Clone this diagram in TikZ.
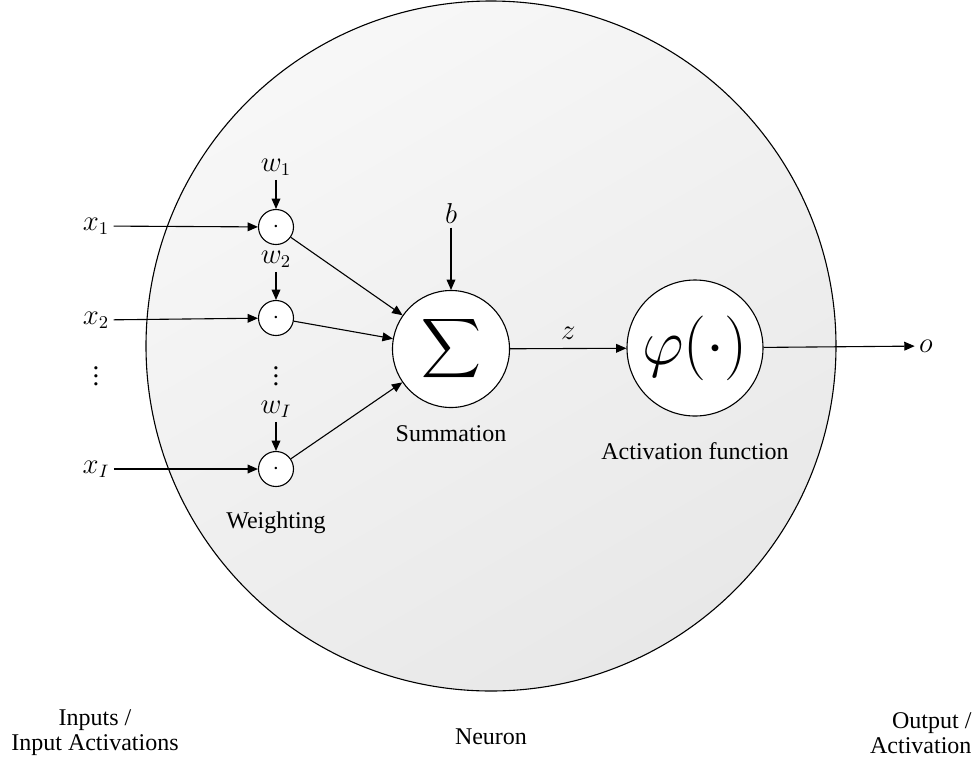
\documentclass[tikz,border=0pt]{standalone}
\usepackage{amsmath}
\usepackage{graphicx}
\usepackage{fontspec}
\setmainfont{Liberation Serif}
\usetikzlibrary{arrows.meta}
\begin{document}
\begin{tikzpicture}[x=0.5pt,y=-0.5pt,
  font=\fontsize{12}{12.5}\selectfont,
  line width=0.55pt,
  arr/.style={-{Triangle[length=5.2pt,width=4.4pt]}},
  mult/.style={circle,draw,fill=white,minimum size=17.5pt,inner sep=0pt},
  bigop/.style={circle,draw,fill=white,inner sep=0pt},
  lbl/.style={inner sep=2pt,font=\fontsize{13.5}{14}\selectfont},
  caption/.style={align=center,inner sep=0pt}]
\useasboundingbox (0,0) rectangle (976,767);
% neuron body
\node[circle,draw,minimum size=345pt,inner sep=0pt,
      top color=black!3,bottom color=black!9,shading angle=30] (neuron) at (491,346) {};
% inputs
\node[lbl] (x1) at (96,226) {$x_1$};
\node[lbl] (x2) at (96,320) {$x_2$};
\node[lbl] (xd) at (96,370) {$\vdots$};
\node[lbl] (xI) at (96,469) {$x_I$};
% multiplication nodes
\node[mult] (m1) at (276,227) {$\cdot$};
\node[mult] (m2) at (276,318) {$\cdot$};
\node[lbl] (md) at (276,370) {$\vdots$};
\node[mult] (mI) at (276,469) {$\cdot$};
% weights
\node[lbl] (w1) at (276,167) {$w_1$};
\node[lbl] (w2) at (276,259) {$w_2$};
\node[lbl] (wI) at (276,409) {$w_I$};
% summation
\node[bigop,minimum size=58.5pt] (sum) at (451,349) {\fontsize{20.74}{24}\selectfont$\displaystyle\sum$};
\node[lbl] (b) at (451,213) {$b$};
% activation
\node[bigop,minimum size=68pt] (act) at (695,348) {\scalebox{1.3}{\fontsize{24.88}{28}\selectfont$\varphi(\cdot)$}};
\node[lbl] (o) at (926,346) {$o$};
% labels
\node[caption] (weighting) at (276,523) {Weighting};
\node[caption] (summation) at (451,434) {Summation};
\node[caption] (activation) at (695,451) {Activation function};
\node[caption] (inputs) at (95,733) {Inputs /\\Input Activations};
\node[caption] (neuronlbl) at (491,737) {Neuron};
\node[caption,align=right,anchor=east] (output) at (972,733) {Output /\\Activation};
% connectors
\draw[arr] (x1) -- (m1);
\draw[arr] (x2) -- (m2);
\draw[arr] (xI) -- (mI);
\draw[arr] (w1) -- (m1);
\draw[arr] (w2) -- (m2);
\draw[arr] (wI) -- (mI);
\draw[arr] (m1) -- (sum);
\draw[arr] (m2) -- (sum);
\draw[arr] (mI) -- (sum);
\draw[arr] (b) -- (sum);
\draw[arr] (sum) -- node[above=4pt,inner sep=0pt,font=\fontsize{13.5}{14}\selectfont] (z) {$z$} (act);
\draw[arr] (act) -- (o);
\end{tikzpicture}
\end{document}
